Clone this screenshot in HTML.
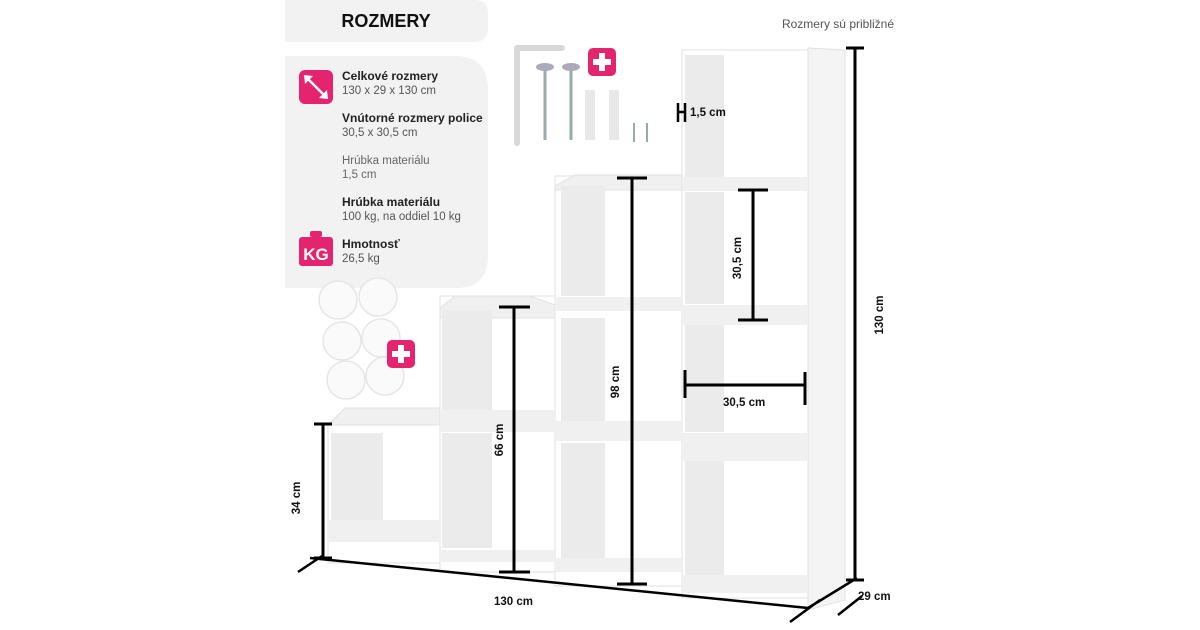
<!DOCTYPE html>
<html><head><meta charset="utf-8"><style>
html,body{margin:0;padding:0;background:#fff;width:1200px;height:630px;overflow:hidden}
svg{display:block;font-family:"Liberation Sans",sans-serif}
</style></head><body>
<svg width="1200" height="630" viewBox="0 0 1200 630">
<!-- left panels -->
<path d="M285 0 H475 Q488 0 488 14 V28 Q488 42 474 42 H285 Z" fill="#f2f2f2"/>
<text x="386" y="27" text-anchor="middle" font-size="18" font-weight="bold" fill="#111">ROZMERY</text>
<path d="M285 56 H455 Q488 56 488 90 V256 Q488 288 456 288 H285 Z" fill="#f2f2f2"/>
<rect x="299" y="70" width="34" height="34" rx="6" fill="#e5246f"/>
<line x1="306" y1="77" x2="326" y2="97" stroke="#fff" stroke-width="2.5"/>
<path d="M304 75 l9 1 -8 8z M328 99 l-9 -1 8 -8z" fill="#fff"/>
<g font-size="12" fill="#222">
<text x="342" y="80" font-weight="bold">Celkové rozmery</text>
<text x="342" y="94" fill="#555" font-size="11.5">130 x 29 x 130 cm</text>
<text x="342" y="122" font-weight="bold">Vnútorné rozmery police</text>
<text x="342" y="136" fill="#555" font-size="11.5">30,5 x 30,5 cm</text>
<text x="342" y="164" fill="#666" font-size="11.5">Hrúbka materiálu</text>
<text x="342" y="178" fill="#666" font-size="11.5">1,5 cm</text>
<text x="342" y="206" font-weight="bold">Hrúbka materiálu</text>
<text x="342" y="220" fill="#555" font-size="11.5">100 kg, na oddiel 10 kg</text>
<text x="342" y="248" font-weight="bold">Hmotnosť</text>
<text x="342" y="262" fill="#555" font-size="11.5">26,5 kg</text>
</g>
<rect x="310" y="231" width="12" height="6" rx="2" fill="#e5246f"/>
<rect x="299" y="237" width="34" height="29" rx="3" fill="#e5246f"/>
<text x="316" y="260" text-anchor="middle" font-size="17" font-weight="bold" fill="#fff">KG</text>
<text x="838" y="28" text-anchor="middle" font-size="12" fill="#555">Rozmery sú približné</text>
<!-- felt pads -->
<g fill="#fafafa" stroke="#e6e6e6" stroke-width="1.5">
<circle cx="338" cy="300" r="19"/><circle cx="378" cy="297" r="19"/>
<circle cx="342" cy="341" r="19"/><circle cx="381" cy="338" r="19"/>
<circle cx="346" cy="380" r="19"/><circle cx="385" cy="376" r="19"/>
</g>
<rect x="387" y="340" width="28" height="28" rx="5" fill="#e5246f"/>
<path d="M397 345h8v9h-0v0h0" fill="none"/>
<rect x="398" y="345" width="6" height="18" fill="#fff"/><rect x="392" y="351" width="18" height="6" fill="#fff"/>
<!-- hardware -->
<path d="M517 48 H562 M517 48 V143" stroke="#d8d8d8" stroke-width="6" fill="none" stroke-linecap="round"/>
<g stroke="#9aa" stroke-width="3"><line x1="545" y1="68" x2="545" y2="140"/><line x1="571" y1="68" x2="571" y2="140"/></g>
<ellipse cx="545" cy="67" rx="9" ry="4" fill="#aab"/><ellipse cx="571" cy="67" rx="9" ry="4" fill="#aab"/>
<g fill="#e8e8e8"><path d="M585 90 h10 v50 h-10z"/><path d="M609 90 h10 v50 h-10z"/></g>
<g stroke="#9aa" stroke-width="2"><line x1="634" y1="123" x2="634" y2="142"/><line x1="647" y1="123" x2="647" y2="142"/></g>
<rect x="588" y="48" width="28" height="28" rx="5" fill="#e5246f"/>
<rect x="599" y="53" width="6" height="18" fill="#fff"/><rect x="593" y="59" width="18" height="6" fill="#fff"/>
<!-- shelf -->
<g fill="#fff" stroke="#e2e2e2" stroke-width="1">
<path d="M808 48 L845 50 V600 L808 610 Z" fill="#f4f4f4"/>
<rect x="682" y="50" width="126" height="548"/>
<rect x="555" y="176" width="127" height="410"/>
<rect x="440" y="296" width="115" height="276"/>
<rect x="328" y="425" width="112" height="138"/>
<path d="M328 425 L345 408 H440 V425Z M440 308 L455 296 H530 L555 305 V318 H440Z M555 186 L575 175 H682 V190 H555Z" fill="#f0f0f0"/>
</g>
<g fill="#ebebeb">
<rect x="685" y="55" width="39" height="122"/><rect x="685" y="192" width="39" height="112"/><rect x="685" y="322" width="39" height="110"/><rect x="685" y="460" width="39" height="115"/>
<rect x="561" y="186" width="44" height="110"/><rect x="561" y="318" width="44" height="105"/><rect x="561" y="443" width="44" height="115"/>
<rect x="442" y="310" width="50" height="100"/><rect x="442" y="433" width="50" height="115"/>
<rect x="331" y="433" width="52" height="88"/>
</g>
<g fill="#f0f0f0">
<rect x="682" y="177" width="126" height="14"/><rect x="682" y="305" width="126" height="20"/><rect x="682" y="433" width="126" height="28"/><rect x="682" y="575" width="126" height="18"/>
<rect x="555" y="297" width="127" height="14"/><rect x="555" y="421" width="127" height="20"/><rect x="555" y="558" width="127" height="14"/>
<rect x="440" y="410" width="115" height="22"/><rect x="440" y="550" width="115" height="12"/>
<rect x="328" y="520" width="112" height="22"/>
</g>
<!-- dimensions -->
<g stroke="#000" stroke-width="3" fill="none">
<path d="M855 48 V580 M846 48 H864 M846 580 H864"/>
<path d="M323 424 V558 M314 424 H332 M314 558 H332"/>
<path d="M514 307 V572 M499 307 H530 M499 572 H530"/>
<path d="M632 178 V584 M617 178 H647 M617 584 H647"/>
<path d="M753 190 V320 M738 190 H768 M738 320 H768"/>
<path d="M685 385 H805 M685 370 V398 M805 372 V405"/>
<path d="M678 103 V122 M685 103 V122 M678 112 H685" stroke-width="2.5"/>
<path d="M310 558 L808 608" stroke-width="2.5"/>
<path d="M298 572 L322 556 M790 622 L820 600 M808 608 L857 578 M838 615 L862 596" stroke-width="2.5"/>
</g>
<g font-size="11.5" font-weight="bold" fill="#111">
<text x="690" y="116">1,5 cm</text>
<text x="723" y="406">30,5 cm</text>
<text x="494" y="605">130 cm</text>
<text x="858" y="600">29 cm</text>
<text transform="translate(883,315) rotate(-90)" text-anchor="middle">130 cm</text>
<text transform="translate(300,498) rotate(-90)" text-anchor="middle">34 cm</text>
<text transform="translate(503,440) rotate(-90)" text-anchor="middle">66 cm</text>
<text transform="translate(619,382) rotate(-90)" text-anchor="middle">98 cm</text>
<text transform="translate(741,258) rotate(-90)" text-anchor="middle">30,5 cm</text>
</g>
</svg>
</body></html>
